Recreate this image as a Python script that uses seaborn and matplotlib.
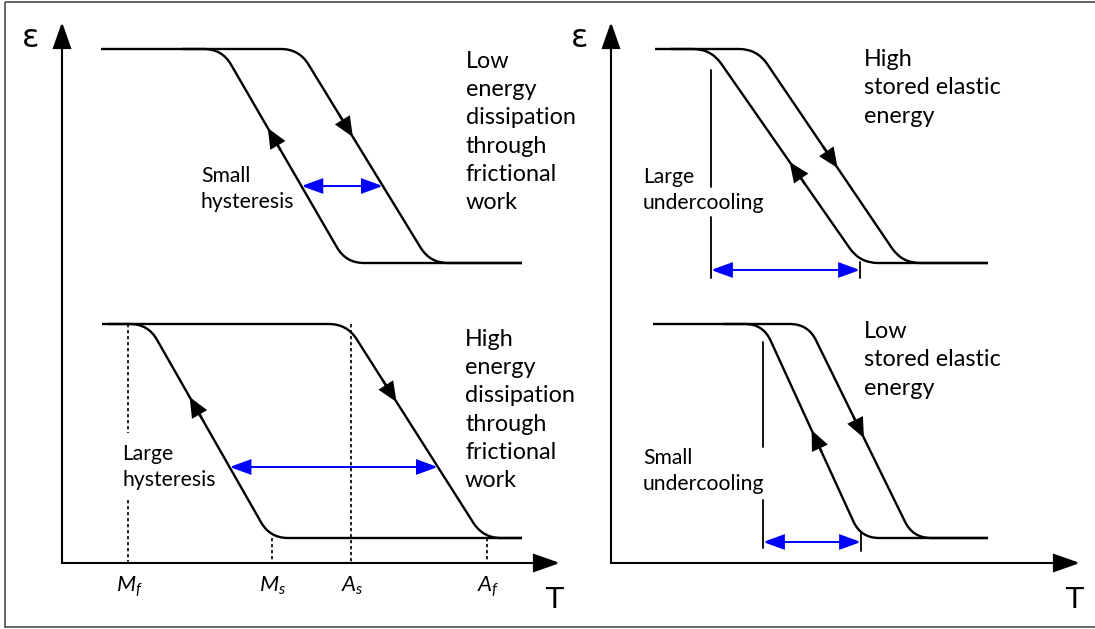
import matplotlib
matplotlib.use("Agg")
import matplotlib.pyplot as plt
import numpy as np
import pandas as pd
import seaborn as sns
from matplotlib.path import Path
from matplotlib.patches import PathPatch, FancyArrowPatch, Rectangle

# picture units: x to the right, y downwards (1095 x 629)

# four loops: low dissipation, high dissipation, high / low stored elastic energy
top_y = [49, 324, 49, 324]
bottom_y = [263, 538, 263, 538]
start_x = [101, 102, 655, 653]
end_x = [522, 522, 988, 988]
cool_top_x = [222, 148, 711, 763]      # cooling branch (arrow points up)
cool_bottom_x = [346, 270, 860, 861]
heat_top_x = [299, 347, 757, 808]      # heating branch (arrow points down)
heat_bottom_x = [430, 483, 902, 913]
cool_arrow_y = [128, 397, 162, 430]
heat_arrow_y = [137, 402, 168, 438]
gap_y = [186, 467, 270, 542]           # level of the blue double arrows

# the two panel axes
origin_x = [62, 611]
origin_y = [563, 563]
axis_top_y = [22, 22]
axis_end_x = [560, 1080]

# transformation temperatures (lower left loop)
temp_names = [r"$M_f$", r"$M_s$", r"$A_s$", r"$A_f$"]
temp_x = [128, 272, 351, 487]
temp_from_y = [324, 538, 324, 538]
temp_gap = [(433, 500), None, None, None]

# undercooling markers (right panels)
under_x = [711, 763]
under_from_y = [70, 342]
under_to_y = [278, 548]
under_gap = [(187, 217), (447, 500)]
tick_half = [8, 9]

loop_texts = ["Low\nenergy\ndissipation\nthrough\nfrictional\nwork",
              "High\nenergy\ndissipation\nthrough\nfrictional\nwork",
              "High\nstored elastic\nenergy",
              "Low\nstored elastic\nenergy"]
gap_texts = ["Small\nhysteresis", "Large\nhysteresis",
             "Large\nundercooling", "Small\nundercooling"]

sns.set_theme(style="white")
plt.rcParams["font.family"] = ["Lato", "DejaVu Sans"]
plt.rcParams["text.color"] = "black"
plt.rcParams["mathtext.fontset"] = "custom"
plt.rcParams["mathtext.it"] = "Lato:italic"
plt.rcParams["mathtext.rm"] = "Lato"

fig = plt.figure(figsize=(10.95, 6.29), dpi=100)
ax = fig.add_axes([0, 0, 1, 1])


def branch_x(x0, y0, x1, y1, y):
    return x0 + (x1 - x0) * (y - y0) / (y1 - y0)


def rounded_path(pts, r=18):
    pts = [np.array(p, float) for p in pts]
    verts, codes = [pts[0]], [Path.MOVETO]
    for i in range(1, len(pts) - 1):
        p, a, b = pts[i], pts[i - 1], pts[i + 1]
        da = (a - p) / np.linalg.norm(a - p)
        db = (b - p) / np.linalg.norm(b - p)
        verts += [p + da * r, p, p + db * r]
        codes += [Path.LINETO, Path.CURVE3, Path.CURVE3]
    verts.append(pts[-1])
    codes.append(Path.LINETO)
    return Path(verts, codes)


def arrow(p0, p1, style, color="black", lw=1.4, ms=10):
    ax.add_patch(FancyArrowPatch(p0, p1, arrowstyle=style, color=color, lw=lw,
                                 mutation_scale=ms, shrinkA=0, shrinkB=0,
                                 joinstyle="miter", capstyle="butt"))


# straight marker lines through seaborn
dotted, solid = [], []
for k in range(4):
    gap = temp_gap[k]
    spans = [(temp_from_y[k], origin_y[0])] if gap is None else \
        [(temp_from_y[k], gap[0]), (gap[1], origin_y[0])]
    for j, (a, b) in enumerate(spans):
        dotted += [dict(x=temp_x[k], y=a, seg=f"t{k}{j}"),
                   dict(x=temp_x[k], y=b, seg=f"t{k}{j}")]
for k in range(2):
    g = under_gap[k]
    for j, (a, b) in enumerate([(under_from_y[k], g[0]), (g[1], under_to_y[k])]):
        solid += [dict(x=under_x[k], y=a, seg=f"u{k}{j}"),
                  dict(x=under_x[k], y=b, seg=f"u{k}{j}")]
    xt, yt = cool_bottom_x[k + 2], gap_y[k + 2]
    solid += [dict(x=xt, y=yt - tick_half[k], seg=f"k{k}"),
              dict(x=xt, y=yt + tick_half[k], seg=f"k{k}")]

sns.lineplot(data=pd.DataFrame(dotted), x="x", y="y", units="seg", estimator=None,
             sort=False, color="black", lw=1.2, linestyle=(0, (2, 1.6)), ax=ax)
sns.lineplot(data=pd.DataFrame(solid), x="x", y="y", units="seg", estimator=None,
             sort=False, color="black", lw=1.3, ax=ax)
ax.set_xlim(0, 1095)
ax.set_ylim(629, 0)
ax.axis("off")

# frame
ax.add_patch(Rectangle((5, 1.5), 1200, 625.5, fill=False, ec="#595959", lw=1.3))

# panel axes
for i in range(2):
    arrow((origin_x[i], origin_y[i]), (origin_x[i], axis_top_y[i]),
          "-|>,head_length=1.65,head_width=0.58", lw=1.5)
    arrow((origin_x[i] - 1, origin_y[i]), (axis_end_x[i], origin_y[i]),
          "-|>,head_length=1.65,head_width=0.58", lw=1.5)
    ax.text(origin_x[i] - 31, 47, "ε", fontsize=23, family="DejaVu Sans",
            ha="center", va="baseline")
    ax.text(axis_end_x[i] - 6, 608, "T", fontsize=21, family="DejaVu Sans",
            ha="center", va="baseline")

# loops
for i in range(4):
    heat = [(start_x[i], top_y[i]), (heat_top_x[i], top_y[i]),
            (heat_bottom_x[i], bottom_y[i]), (end_x[i], bottom_y[i])]
    cool = [(cool_top_x[i] - 40, top_y[i]), (cool_top_x[i], top_y[i]),
            (cool_bottom_x[i], bottom_y[i]), (end_x[i], bottom_y[i])]
    for pts in (heat, cool):
        ax.add_patch(PathPatch(rounded_path(pts), fill=False, ec="black",
                               lw=1.7, capstyle="butt"))

    # direction arrows on the branches
    yc = cool_arrow_y[i]
    xc = branch_x(cool_top_x[i], top_y[i], cool_bottom_x[i], bottom_y[i], yc)
    xc0 = branch_x(cool_top_x[i], top_y[i], cool_bottom_x[i], bottom_y[i], yc + 22)
    arrow((xc0, yc + 22), (xc, yc), "-|>,head_length=1.15,head_width=0.5", lw=1.7)
    yh = heat_arrow_y[i]
    xh = branch_x(heat_top_x[i], top_y[i], heat_bottom_x[i], bottom_y[i], yh)
    xh0 = branch_x(heat_top_x[i], top_y[i], heat_bottom_x[i], bottom_y[i], yh - 22)
    arrow((xh0, yh - 22), (xh, yh), "-|>,head_length=1.15,head_width=0.5", lw=1.7)

    # blue double arrows
    yg = gap_y[i]
    if i < 2:
        x0 = branch_x(cool_top_x[i], top_y[i], cool_bottom_x[i], bottom_y[i], yg)
        x1 = branch_x(heat_top_x[i], top_y[i], heat_bottom_x[i], bottom_y[i], yg)
    else:
        x0, x1 = cool_top_x[i], cool_bottom_x[i]
    arrow((x0, yg), (x1, yg), "<|-|>,head_length=1.3,head_width=0.47",
          color="#0000FF", lw=1.4)

# texts
for k in range(4):
    ax.text(temp_x[k] + 1, 592, temp_names[k], fontsize=16, ha="center",
            va="baseline")
text_x = [466, 465, 864, 864]
text_y = [132, 410, 88, 360]
for i in range(4):
    ax.text(text_x[i], text_y[i], loop_texts[i], fontsize=16.8, ha="left",
            va="center", linespacing=1.42)
label_x = [201, 122, 643, 643]
label_y = [189, 467, 190, 471]
for i in range(4):
    ax.text(label_x[i], label_y[i], gap_texts[i], fontsize=15.2, ha="left",
            va="center", linespacing=1.38)

fig.savefig("out.png", dpi=100)
